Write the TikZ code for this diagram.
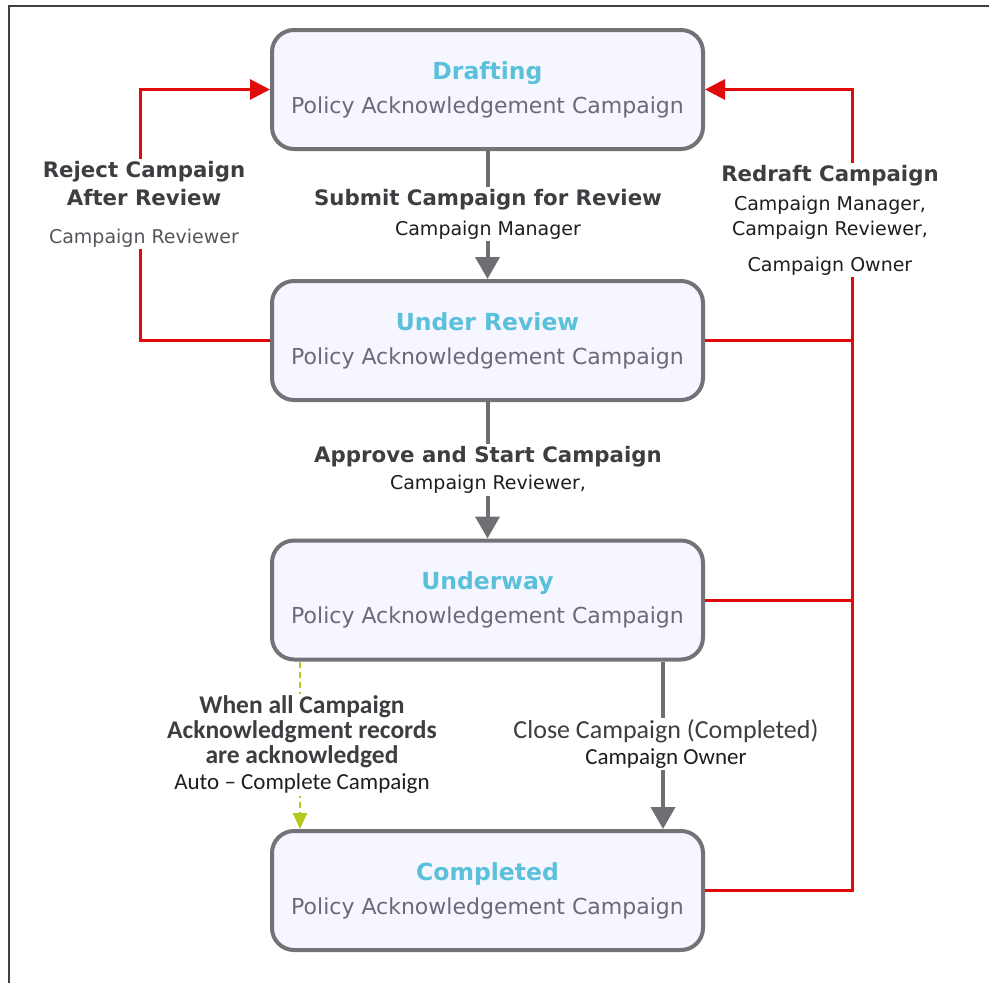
\documentclass[tikz,border=0pt]{standalone}
\usepackage{fontspec}
\setmainfont{DejaVu Sans}
\newfontfamily\calfont{Carlito}
\usetikzlibrary{arrows.meta,calc}
\definecolor{boxgray}{HTML}{727277}
\definecolor{boxfill}{HTML}{F5F6FF}
\definecolor{titlecyan}{HTML}{5BC0DA}
\definecolor{subgray}{HTML}{6A6A78}
\definecolor{lblbold}{HTML}{3E3E42}
\definecolor{lblreg}{HTML}{1E1E22}
\definecolor{lblsoft}{HTML}{55555C}
\definecolor{redline}{HTML}{E00A0A}
\definecolor{arrowgray}{HTML}{6E6E73}
\definecolor{greenline}{HTML}{B4C81E}
\definecolor{framegray}{HTML}{404040}
\newcommand\statetext[1]{{\color{titlecyan}\bfseries\fontsize{23.5}{33}\selectfont #1}\\Policy Acknowledgement Campaign}
\tikzset{
  statebox/.style={draw=boxgray, line width=4pt, fill=boxfill, rounded corners=22pt,
    minimum width=431pt, minimum height=119pt, inner sep=0pt, align=center,
    font=\fontsize{22}{34}\selectfont, text=subgray},
  lbl/.style={fill=white, inner sep=2pt, align=center, font=\fontsize{19}{25}\selectfont},
  grayarrow/.style={draw=arrowgray, line width=4pt, -{Triangle[length=22pt,width=24pt]}},
  redconn/.style={draw=redline, line width=3pt, line join=miter},
  redarrow/.style={redconn, -{Triangle[length=20pt,width=20pt]}},
  greendash/.style={draw=greenline, line width=2.5pt, dash pattern=on 6pt off 4pt,
    -{Triangle[length=16pt,width=14pt]}},
  framebar/.style={draw=framegray, line width=2.5pt}
}
\newcommand\lblB[1]{{\color{lblbold}\bfseries\fontsize{21.3}{25}\selectfont #1}}
\newcommand\lblR[1]{{\color{lblreg}\fontsize{19}{25}\selectfont #1}}
\newcommand\lblS[1]{{\color{lblsoft}\fontsize{19}{25}\selectfont #1}}
\newcommand\calB[1]{{\calfont\color{lblbold}\bfseries\fontsize{25.5}{25}\selectfont #1}}
\newcommand\calR[1]{{\calfont\color{lblreg}\fontsize{23}{25}\selectfont #1}}
\newcommand\calM[1]{{\calfont\color{lblbold}\fontsize{26}{25}\selectfont #1}}
\begin{document}
\begin{tikzpicture}[x=1pt,y=-1pt]
\useasboundingbox (0,0) rectangle (989,983);
\draw[framebar] (9,983) -- (9,6) -- (989,6);

\node[statebox] (draft) at (487.5,89.5) {\statetext{Drafting}};
\node[statebox] (review) at (487.5,340.5) {\statetext{Under Review}};
\node[statebox] (underway) at (487.5,600) {\statetext{Underway}};
\node[statebox] (done) at (487.5,890.5) {\statetext{Completed}};

% main flow
\draw[grayarrow] (draft) -- (review);
\draw[grayarrow] (review) -- (underway);
\draw[grayarrow] ([xshift=175.5pt]underway.south) -- ([xshift=175.5pt]done.north);
\draw[greendash] ([xshift=-187.5pt]underway.south) -- ([xshift=-187.5pt]done.north);

% reject loop
\coordinate (rjtop) at (140,89.5);
\coordinate (rjbot) at (review.west -| rjtop);
\draw[redarrow] (review.west) -- (rjbot) -- (rjtop) -- (draft.west);

% redraft loop
\coordinate (rdtop) at (852,89.5);
\coordinate (rdbot) at (done.east -| rdtop);
\draw[redarrow] (done.east) -- (rdbot) -- (rdtop) -- (draft.east);
\draw[redconn] (review.east) -- (review.east -| rdtop);
\draw[redconn] (underway.east) -- (underway.east -| rdtop);

% labels
\node[lbl] (submitlbl) at (488,214) {\lblB{Submit Campaign for Review}\\[5pt]\lblR{Campaign Manager}};
\node[lbl] (approvelbl) at (488,470) {\lblB{Approve and Start Campaign}\\[2pt]\lblR{Campaign Reviewer,}};
\node[lbl] (rejectlbl) at (144,204) {\lblB{Reject Campaign}\\[3pt]\lblB{After Review}\\[13pt]\lblS{Campaign Reviewer}};
\node[lbl] (redraftlbl) at (830,220) {\lblB{Redraft Campaign}\\[4pt]\lblR{Campaign Manager,}\\[0pt]\lblR{Campaign Reviewer,}\\[11pt]\lblR{Campaign Owner}};
\node[lbl] (autolbl) at (302,745) {\calB{When all Campaign}\\\calB{Acknowledgment records}\\\calB{are acknowledged}\\[1pt]\calR{Auto – Complete Campaign}};
\node[lbl] (closelbl) at (666,744) {\calM{Close Campaign (Completed)}\\[1pt]\calR{Campaign Owner}};
\end{tikzpicture}
\end{document}
